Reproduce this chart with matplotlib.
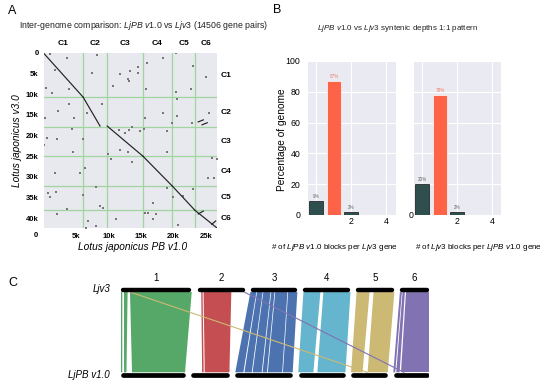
import numpy as np
import matplotlib
matplotlib.use('Agg')
import matplotlib.pyplot as plt
from matplotlib.patches import Polygon

plt.rcParams['font.family'] = ['Liberation Sans', 'DejaVu Sans']
plt.rcParams['mathtext.fontset'] = 'custom'
plt.rcParams['mathtext.rm'] = 'Liberation Sans'
plt.rcParams['mathtext.it'] = 'Liberation Sans:italic'

# chromosome lengths (thousand genes)
pb_len = [6.1, 3.7, 5.5, 4.5, 3.5, 3.4]      # LjPB v1.0
v3_len = [10.7, 7.2, 7.1, 7.2, 5.8, 4.4]     # Ljv3
chrom_names = ['C1', 'C2', 'C3', 'C4', 'C5', 'C6']

# dotplot: main syntenic runs (x = PB, y = v3, in k genes)
run_x0 = [0.0, 6.1, 9.8, 15.3, 19.8, 23.3, 23.8, 24.4, 23.8, 25.9]
run_y0 = [0.0, 10.7, 17.7, 25.0, 32.2, 38.1, 16.7, 17.4, 39.0, 41.5]
run_x1 = [6.1, 8.7, 15.3, 19.8, 23.3, 26.7, 24.6, 25.2, 24.6, 26.5]
run_y1 = [10.7, 17.7, 25.0, 32.2, 38.1, 42.4, 16.2, 16.9, 38.3, 40.7]

# dotplot: scattered gene pairs
dot_x = [1.0, 3.6, 1.8, 7.5, 8.2, 11.8, 13.0, 10.7, 0.4, 3.9, 1.3, 9.0, 3.9, 2.2, 4.7, 6.7,
         0.2, 4.4, 11.6, 12.5, 0.5, 2.1,
         20.4, 15.9, 18.4, 13.3, 14.5, 14.5, 23.0, 13.2, 25.0, 15.8, 20.4, 22.7, 20.5, 18.4,
         20.5, 15.6, 25.5, 13.6, 14.8, 13.2, 15.5, 19.0, 19.8, 22.8,
         6.1, 0.1, 4.5, 9.9, 10.4, 11.8, 6.4, 5.6, 1.8, 8.1, 0.7, 1.0, 1.9, 6.1, 8.7, 9.2,
         3.6, 2.1, 11.2, 6.8, 8.1, 6.5,
         13.0, 13.6, 19.0, 25.9, 26.7, 25.3, 26.2, 19.0, 23.0, 19.9, 21.5, 16.8, 15.6, 16.1,
         17.3, 16.8, 20.7]
dot_y = [0.2, 1.2, 4.1, 4.8, 0.5, 5.1, 6.3, 8.0, 8.5, 8.7, 9.7, 12.4, 12.4, 14.1, 15.8, 14.5,
         15.8, 18.4, 18.7, 19.4, 20.6, 20.8,
         0.0, 2.4, 1.2, 4.4, 3.4, 4.8, 3.2, 6.8, 5.8, 8.7, 9.5, 8.7, 11.2, 14.5,
         15.3, 15.8, 14.5, 17.9, 18.9, 18.7, 18.4, 18.9, 17.0, 17.0,
         20.8, 22.3, 24.0, 24.5, 25.7, 23.5, 27.9, 29.1, 29.1, 32.5, 33.9, 34.9, 33.7, 34.4, 37.1, 37.6,
         37.8, 39.0, 40.2, 40.7, 41.9, 42.4,
         24.0, 26.4, 24.0, 25.5, 25.7, 30.3, 30.3, 32.7, 33.0, 34.9, 34.7, 36.4, 38.8, 38.8,
         39.0, 40.2, 41.7]

# panel B: syntenic depth
depth = [0, 1, 2]
pb_per_v3 = [9, 87, 2]
v3_per_pb = [20, 78, 2]

# panel C: ribbons (chromosome, v3 start/end, PB start/end; k genes within chromosome)
blk_chr = [0, 0, 0, 1, 1, 2, 2, 2, 2, 2, 2, 3, 3, 4, 4, 5, 5, 5]
blk_t0 = [0.0, 0.45, 1.36, 0.6, 0.95, 0.0, 1.0, 1.95, 3.15, 3.75, 5.7, 0.08, 3.1, 0.08, 2.65, 0.0, 0.4, 0.85]
blk_t1 = [0.2, 1.0, 10.7, 0.8, 5.15, 0.9, 1.85, 3.05, 3.65, 5.6, 7.1, 2.65, 7.2, 2.05, 5.8, 0.3, 0.75, 4.4]
blk_b0 = [0.0, 0.29, 1.05, 1.1, 1.35, 0.03, 0.9, 1.68, 2.63, 3.13, 4.57, 0.0, 1.82, 0.0, 1.58, 0.0, 0.28, 0.7]
blk_b1 = [0.12, 0.52, 6.1, 1.25, 3.7, 0.8, 1.6, 2.55, 3.05, 4.5, 5.5, 1.44, 4.5, 1.1, 3.5, 0.18, 0.6, 3.4]
# cross links (v3 chromosome/pos -> PB chromosome/pos)
lnk_t_chr = [0, 1]
lnk_t_pos = [1.36, 7.1]
lnk_b_chr = [4, 5]
lnk_b_pos = [1.55, 1.0]

palette = ['#55a868', '#c44e52', '#4c72b0', '#64b5cd', '#ccb974', '#8172b2']

W, H = 550, 382


def rect(l, t, r, b):
    return [l / W, 1 - b / H, (r - l) / W, (b - t) / H]


fig = plt.figure(figsize=(5.5, 3.82), dpi=100)

# ---------------- panel A ----------------
axA = fig.add_axes(rect(43.5, 53, 217, 228))
axA.set_facecolor('#e8e8ef')
axA.set_xlim(0, sum(pb_len))
axA.set_ylim(sum(v3_len), 0)
pb_edges = np.cumsum([0] + pb_len)
v3_edges = np.cumsum([0] + v3_len)
for b in pb_edges[1:-1]:
    axA.axvline(b, color='#9ed69e', lw=0.9, zorder=1)
for b in v3_edges[1:-1]:
    axA.axhline(b, color='#9ed69e', lw=0.9, zorder=1)
for i in range(len(run_x0)):
    axA.plot([run_x0[i], run_x1[i]], [run_y0[i], run_y1[i]], color='#222222', lw=0.85, zorder=3)
axA.scatter(dot_x, dot_y, s=0.8, marker='s', color='#777777', linewidths=0, zorder=2)
for s in axA.spines.values():
    s.set_visible(False)
axA.set_xticks([5, 10, 15, 20, 25])
axA.set_xticklabels(['5k', '10k', '15k', '20k', '25k'])
axA.set_yticks(range(0, 41, 5))
axA.set_yticklabels(['0'] + ['%dk' % v for v in range(5, 41, 5)])
axA.tick_params(length=0, labelsize=5.5, pad=3.5)
for lab in axA.get_xticklabels() + axA.get_yticklabels():
    lab.set_fontweight('bold')
axA.text(-0.043, -0.025, '0', transform=axA.transAxes, ha='center', va='top',
         fontsize=5.5, fontweight='bold')
for i in range(6):
    axA.text((pb_edges[i] + pb_edges[i + 1]) / 2, 1.057, chrom_names[i],
             transform=axA.get_xaxis_transform(), ha='center', va='center',
             fontsize=6, fontweight='bold')
    axA.text(1.02, (v3_edges[i] + v3_edges[i + 1]) / 2, chrom_names[i],
             transform=axA.get_yaxis_transform(), ha='left', va='center',
             fontsize=6, fontweight='bold')
fig.text(144 / W, 1 - 26 / H,
         r'Inter-genome comparison: $\mathit{LjPB\ v1.0}$ vs $\mathit{Ljv3}$ (14506 gene pairs)',
         ha='center', va='center', fontsize=6.3, color='#222222')
fig.text(133 / W, 1 - 247 / H, 'Lotus japonicus PB v1.0', style='italic',
         ha='center', va='center', fontsize=7.3)
fig.text(17 / W, 1 - 141 / H, 'Lotus japonicus v3.0', style='italic', rotation=90,
         ha='center', va='center', fontsize=7.3)

# ---------------- panel B ----------------
dark, orange = '#2f4f4f', '#ff6347'
bar_cols = [dark, orange, dark]
lab_cols = ['#666666', '#f08070', '#666666']
for k, (vals, box) in enumerate([(pb_per_v3, rect(308, 61, 395.5, 215)),
                                 (v3_per_pb, rect(414, 61, 501.5, 215))]):
    ax = fig.add_axes(box)
    ax.set_facecolor('#eaeaf2')
    ax.set_axisbelow(True)
    ax.grid(True, color='white', lw=0.8)
    ax.bar(depth, vals, width=0.8, color=bar_cols,
           edgecolor=['#111111', 'white', '#111111'], linewidth=0.5)
    for x, v, c in zip(depth, vals, lab_cols):
        ax.text(x, v + 1.5, '%d%%' % v, ha='center', va='bottom', fontsize=3.3, color=c)
    ax.set_xlim(-0.48, 4.52)
    ax.set_ylim(0, 100)
    ax.set_xticks([0, 2, 4])
    ax.set_xticklabels(['', '2', '4'])
    ax.set_yticks(range(0, 101, 20))
    if k == 0:
        ax.set_yticklabels([str(v) for v in range(0, 101, 20)])
    else:
        ax.set_yticklabels(['0', '', '', '', '', ''])
    ax.tick_params(axis='x', length=0, labelsize=6.3, pad=1.5)
    ax.tick_params(axis='y', length=0, labelsize=6.3, pad=5.5 if k == 0 else 0.5)
    for s in ax.spines.values():
        s.set_visible(False)

fig.text(398 / W, 1 - 28 / H,
         r'$\mathit{LjPB\ v1.0}$ vs $\mathit{Ljv3}$ syntenic depths 1:1 pattern',
         ha='center', va='center', fontsize=5.8, color='#222222')
fig.text(282 / W, 1 - 140 / H, 'Percentage of genome', rotation=90,
         ha='center', va='center', fontsize=7.3)
fig.text(334.5 / W, 1 - 247 / H, r'# of $\mathit{LjPB\ v1.0}$ blocks per $\mathit{Ljv3}$ gene',
         ha='center', va='center', fontsize=5.8)
fig.text(479 / W, 1 - 247 / H, r'# of $\mathit{Ljv3}$ blocks per $\mathit{LjPB\ v1.0}$ gene',
         ha='center', va='center', fontsize=5.8)

# ---------------- panel C ----------------
axC = fig.add_axes(rect(121, 270, 429, 382))
axC.set_xlim(0, 1)
axC.set_ylim(-0.082, 1.235)
axC.axis('off')
gap = 0.018
t_scale = (1 - 5 * gap) / sum(v3_len)
b_scale = (1 - 5 * gap) / sum(pb_len)
t_start = [sum(v3_len[:i]) * t_scale + i * gap for i in range(6)]
b_start = [sum(pb_len[:i]) * b_scale + i * gap for i in range(6)]
yt, yb = 0.976, 0.032

for i in range(len(blk_chr)):
    c = blk_chr[i]
    poly = [(t_start[c] + blk_t0[i] * t_scale, yt), (t_start[c] + blk_t1[i] * t_scale, yt),
            (b_start[c] + blk_b1[i] * b_scale, yb), (b_start[c] + blk_b0[i] * b_scale, yb)]
    axC.add_patch(Polygon(poly, closed=True, facecolor=palette[c], edgecolor='none'))

for i in range(len(lnk_t_chr)):
    axC.plot([t_start[lnk_t_chr[i]] + lnk_t_pos[i] * t_scale,
              b_start[lnk_b_chr[i]] + lnk_b_pos[i] * b_scale], [yt, yb],
             color=palette[lnk_b_chr[i]], lw=0.8)

cap = 0.0074
for i in range(6):
    t0, t1 = t_start[i], t_start[i] + v3_len[i] * t_scale
    b0, b1 = b_start[i], b_start[i] + pb_len[i] * b_scale
    axC.plot([t0 + cap, t1 - cap], [1, 1], color='black', lw=3.2, solid_capstyle='round')
    axC.plot([b0 + cap, b1 - cap], [0, 0], color='black', lw=3.4, solid_capstyle='round')
    axC.text((t0 + t1) / 2, 1.145, str(i + 1), ha='center', va='center', fontsize=7)

fig.text(110 / W, 1 - 289 / H, 'Ljv3', style='italic', ha='right', va='center', fontsize=7)
fig.text(110 / W, 1 - 375 / H, 'LjPB v1.0', style='italic', ha='right', va='center', fontsize=7)

# panel letters
fig.text(12 / W, 1 - 11 / H, 'A', ha='center', va='center', fontsize=9)
fig.text(277 / W, 1 - 10 / H, 'B', ha='center', va='center', fontsize=9)
fig.text(13 / W, 1 - 283 / H, 'C', ha='center', va='center', fontsize=9)

fig.savefig('out.png', dpi=100)
